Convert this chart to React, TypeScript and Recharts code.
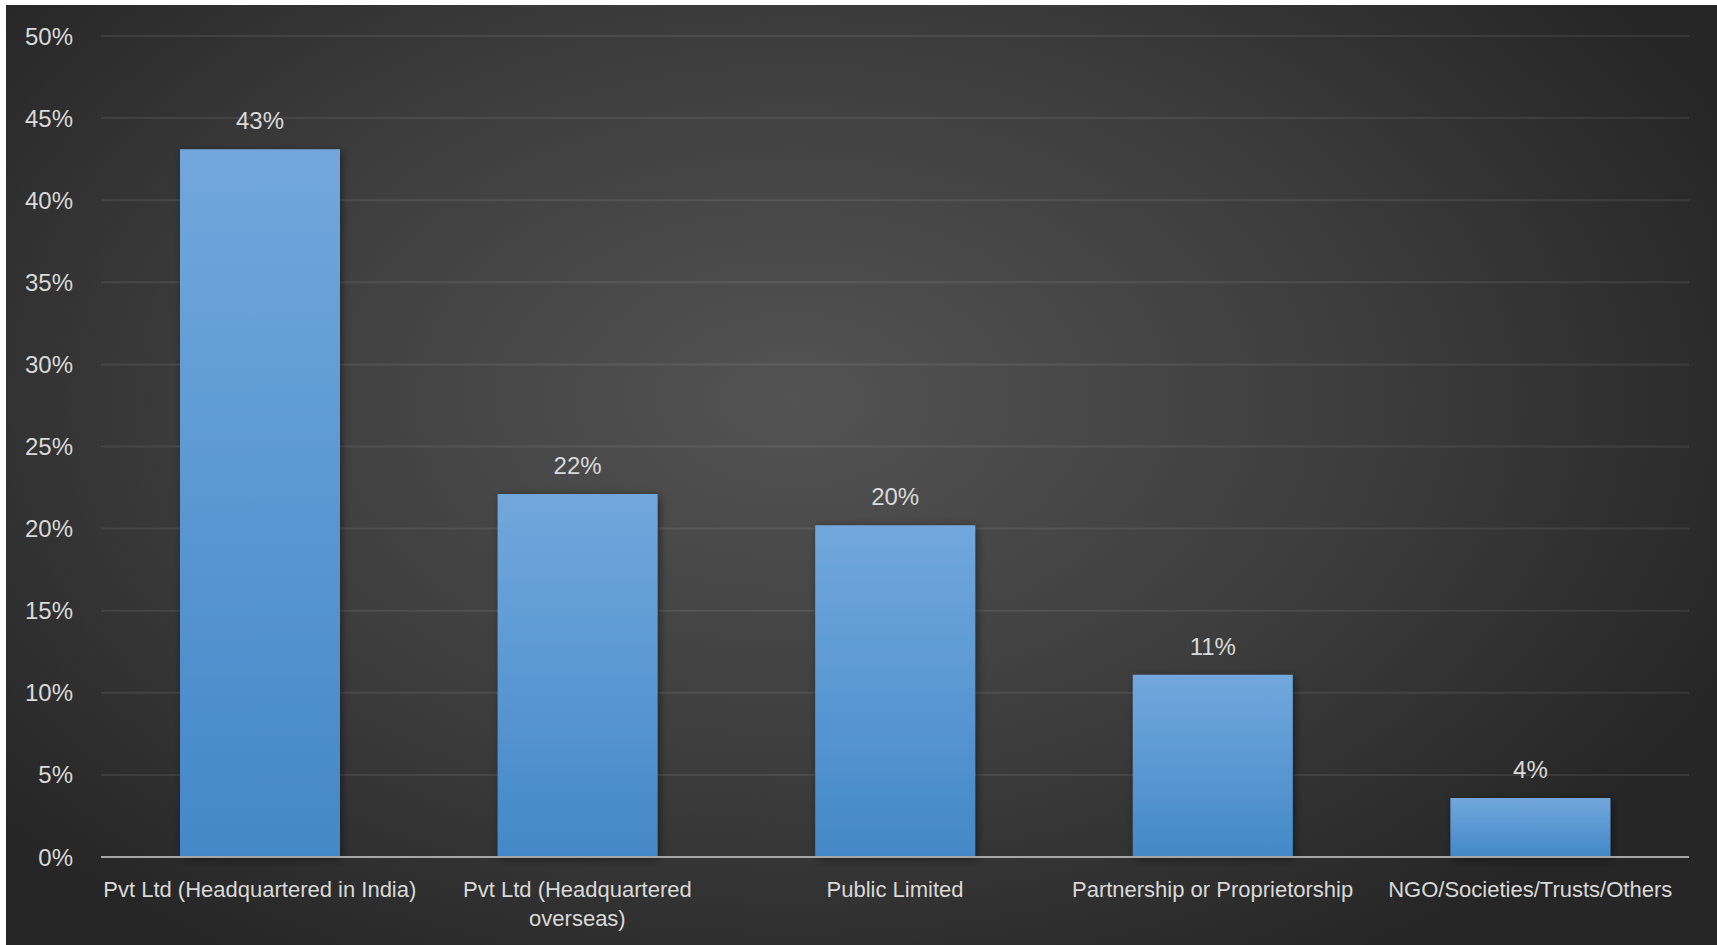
import { Bar, BarChart, CartesianGrid, LabelList, XAxis, YAxis } from "recharts";

const categories = [
  "Pvt Ltd (Headquartered in India)",
  "Pvt Ltd (Headquartered\noverseas)",
  "Public Limited",
  "Partnership or Proprietorship",
  "NGO/Societies/Trusts/Others",
];

const shares = [43.1, 22.1, 20.2, 11.1, 3.6];

const yTicks = [0, 5, 10, 15, 20, 25, 30, 35, 40, 45, 50];

const data = categories.map((category, i) => ({ category, share: shares[i] }));

const FONT = '"Liberation Sans", Arial, sans-serif';
const TEXT = "#d9d9d9";

function CategoryTick({ x, y, payload }: { x: number; y: number; payload: { value: string } }) {
  const lines = String(payload.value).split("\n");
  return (
    <text x={x} y={y} textAnchor="middle" fill={TEXT} fontFamily={FONT} fontSize={22}>
      {lines.map((line, i) => (
        <tspan key={i} x={x} dy={i === 0 ? 32 : 29}>
          {line}
        </tspan>
      ))}
    </text>
  );
}

export default function App() {
  return (
    <div
      style={{
        position: "absolute",
        left: 6,
        top: 5,
        width: 1711,
        height: 940,
        background:
          "radial-gradient(ellipse 60% 70% at 46% 42%, #535353 0%, #3d3d3d 55%, #262626 100%)",
      }}
    >
      <BarChart
        width={1711}
        height={940}
        data={data}
        margin={{ top: 31, right: 28, bottom: 0, left: 0 }}
      >
        <defs>
          <linearGradient id="barFill" x1="0" y1="0" x2="0" y2="1">
            <stop offset="0%" stopColor="#71a7dc" />
            <stop offset="100%" stopColor="#4388c8" />
          </linearGradient>
          <filter id="barShadow" x="-10%" y="-10%" width="130%" height="130%">
            <feDropShadow dx="2" dy="2" stdDeviation="4" floodColor="#000" floodOpacity="0.45" />
          </filter>
        </defs>

        <CartesianGrid
          vertical={false}
          stroke="rgba(255, 255, 255, 0.08)"
          strokeWidth={2}
        />

        <XAxis
          dataKey="category"
          height={88}
          tickLine={false}
          tickSize={0}
          tickMargin={8}
          axisLine={{ stroke: "#a6a6a6", strokeWidth: 2 }}
          tick={CategoryTick}
          interval={0}
        />

        <YAxis
          type="number"
          domain={[0, 50]}
          ticks={yTicks}
          width={95}
          axisLine={false}
          tickLine={false}
          tickSize={0}
          tickMargin={28}
          tickFormatter={(value: number) => `${value}%`}
          tick={{ fill: TEXT, fontFamily: FONT, fontSize: 24 }}
        />

        <Bar
          dataKey="share"
          fill="url(#barFill)"
          barSize={160}
          filter="url(#barShadow)"
          isAnimationActive={false}
        >
          <LabelList
            dataKey="share"
            position="top"
            offset={20}
            formatter={(value: number) => `${Math.round(value)}%`}
            fill={TEXT}
            fontFamily={FONT}
            fontSize={24}
          />
        </Bar>
      </BarChart>
    </div>
  );
}
